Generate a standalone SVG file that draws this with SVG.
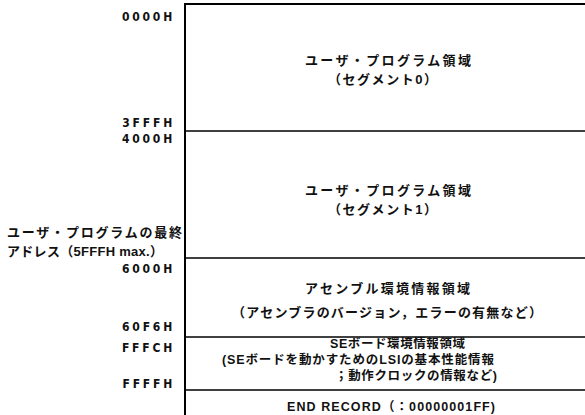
<svg xmlns="http://www.w3.org/2000/svg" width="585" height="415" viewBox="0 0 585 415">
<style>
.bg{fill:#fff}
.frame{stroke:#000;fill:none}
.hex{font-family:"DejaVu Sans Condensed","DejaVu Sans","Liberation Sans",sans-serif;font-stretch:condensed;font-weight:bold;font-size:12px;letter-spacing:2.8px;text-anchor:end;fill:#111}
.jp{font-family:"Liberation Sans","Noto Sans CJK JP",sans-serif;font-weight:bold;font-size:13px;fill:#111}
.sm{font-family:"Liberation Sans","Noto Sans CJK JP",sans-serif;font-weight:bold;font-size:12.5px;fill:#111}
</style>
<rect class="bg" x="0" y="0" width="585" height="415"/>
<g id="connectors">
<line class="frame" x1="185" y1="4" x2="585" y2="4" stroke-width="2.2"/>
<line class="frame" x1="185" y1="3" x2="185" y2="415" stroke-width="2"/>
<line class="frame" x1="185" y1="131" x2="585" y2="131" stroke-width="1.5"/>
<line class="frame" x1="185" y1="258" x2="585" y2="258" stroke-width="1.5"/>
<line class="frame" x1="185" y1="337" x2="585" y2="337" stroke-width="1.5"/>
<line class="frame" x1="185" y1="390" x2="585" y2="390" stroke-width="1.5"/>
</g>
<g id="addresses">
<text class="hex" x="175" y="21">0000H</text>
<text class="hex" x="175" y="127">3FFFH</text>
<text class="hex" x="175" y="143">4000H</text>
<text class="hex" x="175" y="273">6000H</text>
<text class="hex" x="175" y="331">60F6H</text>
<text class="hex" x="175" y="352">FFFCH</text>
<text class="hex" x="175" y="388">FFFFH</text>
</g>
<g id="last-address">
<text class="jp" x="7" y="237" textLength="175" lengthAdjust="spacing">ユーザ・プログラムの最終</text>
<text class="jp" x="7" y="256" textLength="156" lengthAdjust="spacing">アドレス（5FFFH max.）</text>
</g>
<g id="segment0">
<text class="jp" x="305" y="65" textLength="166" lengthAdjust="spacing">ユーザ・プログラム領域</text>
<text class="jp" x="328" y="84" textLength="109" lengthAdjust="spacing">（セグメント0）</text>
</g>
<g id="segment1">
<text class="jp" x="305" y="195" textLength="166" lengthAdjust="spacing">ユーザ・プログラム領域</text>
<text class="jp" x="328" y="214" textLength="109" lengthAdjust="spacing">（セグメント1）</text>
</g>
<g id="assembler-env">
<text class="jp" x="305" y="293" textLength="165" lengthAdjust="spacing">アセンブル環境情報領域</text>
<text class="jp" x="232" y="317" textLength="310" lengthAdjust="spacing">（アセンブラのバージョン，エラーの有無など）</text>
</g>
<g id="se-board-env">
<text class="sm" x="330" y="348" textLength="135" lengthAdjust="spacing">SEボード環境情報領域</text>
<text class="sm" x="222" y="364" textLength="272" lengthAdjust="spacing">(SEボードを動かすためのLSIの基本性能情報</text>
<text class="sm" x="335" y="380" textLength="162" lengthAdjust="spacing">；動作クロックの情報など)</text>
</g>
<g id="end-record">
<text class="sm" x="287" y="411" textLength="208" lengthAdjust="spacing">END RECORD（：00000001FF)</text>
</g>
</svg>
